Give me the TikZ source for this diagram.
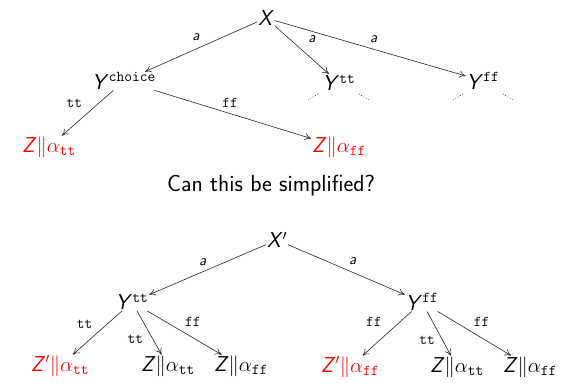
\documentclass[tikz,border=0pt]{standalone}
\usepackage{amsmath}
\usetikzlibrary{arrows.meta,calc}
\begin{document}
\begin{tikzpicture}[x=1pt,y=-1pt,
  nd/.style={font=\fontsize{21.5}{25}\selectfont\sffamily, inner sep=1pt, outer sep=0pt},
  rednd/.style={nd, text=red},
  lbl/.style={font=\fontsize{15}{17}\selectfont\sffamily, inner sep=0pt},
  arr/.style={-{To[length=6.5pt,width=7pt]}, line width=0.6pt, draw=black!85},
  dotline/.style={dash pattern=on 0.7pt off 2pt, line width=0.7pt, draw=black!70}]
\useasboundingbox (0,0) rectangle (574,385);

% ---------- top tree ----------
\node[nd] (X) at (266,18) {\textsl{X}};
\node[nd] (Yc) at (124,81) {\textsl{Y}$^{\texttt{choice}}$};
\node[nd] (Ytt) at (339,83) {\textsl{Y}$^{\texttt{tt}}$};
\node[nd] (Yff) at (483,81) {\textsl{Y}$^{\texttt{ff}}$};
\node[rednd] (Ztt) at (49,147) {\textsl{Z}$\|\alpha_{\texttt{tt}}$};
\node[rednd] (Zff) at (339,147) {\textsl{Z}$\|\alpha_{\texttt{ff}}$};

\draw[arr] (X) -- (Yc) node[lbl, pos=0.506, xshift=-4.4pt, yshift=9.8pt] {\textsl{a}};
\draw[arr] (X) -- (Ytt) node[lbl, pos=0.5, xshift=10.2pt, yshift=10.8pt] {\textsl{a}};
\draw[arr] (X) -- (Yff) node[lbl, pos=0.504, xshift=2.8pt, yshift=9.7pt] {\textsl{a}};
\draw[arr] (Yc) -- (Ztt) node[lbl, pos=0.55, xshift=-10.7pt, yshift=11.7pt] {\texttt{tt}};
\draw[arr] (Yc) -- (Zff) node[lbl, pos=0.46, xshift=3.5pt, yshift=9.6pt] {\texttt{ff}};

\coordinate (t1a) at ($(Ytt)+(-21,11)$); \coordinate (t1b) at ($(Ytt)+(-31,17)$);
\coordinate (t2a) at ($(Ytt)+(20,11)$);  \coordinate (t2b) at ($(Ytt)+(30,17)$);
\coordinate (f1a) at ($(Yff)+(-20,13)$); \coordinate (f1b) at ($(Yff)+(-30,19)$);
\coordinate (f2a) at ($(Yff)+(20,13)$);  \coordinate (f2b) at ($(Yff)+(30,19)$);
\draw[dotline] (t1a) -- (t1b);
\draw[dotline] (t2a) -- (t2b);
\draw[dotline] (f1a) -- (f1b);
\draw[dotline] (f2a) -- (f2b);

% ---------- question ----------
\node[font=\fontsize{23.3}{27}\selectfont\sffamily, inner sep=0pt] (q) at (271,186) {Can this be simplified?};

% ---------- bottom tree ----------
\node[nd] (Xp) at (277,240) {\textsl{X}$'$};
\node[nd] (Bt) at (132,302) {\textsl{Y}$^{\texttt{tt}}$};
\node[nd] (Bf) at (422,302) {\textsl{Y}$^{\texttt{ff}}$};
\node[rednd] (L1) at (60,366) {\textsl{Z}$'\|\alpha_{\texttt{tt}}$};
\node[nd] (L2) at (168,366) {\textsl{Z}$\|\alpha_{\texttt{tt}}$};
\node[nd] (L3) at (241,366) {\textsl{Z}$\|\alpha_{\texttt{ff}}$};
\node[rednd] (R1) at (350,367) {\textsl{Z}$'\|\alpha_{\texttt{ff}}$};
\node[nd] (R2) at (457,367) {\textsl{Z}$\|\alpha_{\texttt{tt}}$};
\node[nd] (R3) at (530,367) {\textsl{Z}$\|\alpha_{\texttt{ff}}$};

\draw[arr] (Xp) -- (Bt) node[lbl, pos=0.51, xshift=-3.8pt, yshift=8.5pt] {\textsl{a}};
\draw[arr] (Xp) -- (Bf) node[lbl, pos=0.52, xshift=4.1pt, yshift=9.1pt] {\textsl{a}};
\draw[arr] (Bt) -- (L1) node[lbl, pos=0.56, xshift=-9.8pt, yshift=11pt] {\texttt{tt}};
\draw[arr] (Bt) -- (L2) node[lbl, pos=0.5, xshift=-14pt, yshift=-7pt] {\texttt{tt}};
\draw[arr] (Bt) -- (L3) node[lbl, pos=0.52, xshift=7pt, yshift=11.4pt] {\texttt{ff}};
\draw[arr] (Bf) -- (R1) node[lbl, pos=0.53, xshift=-11.7pt, yshift=12.7pt] {\texttt{ff}};
\draw[arr] (Bf) -- (R2) node[lbl, pos=0.52, xshift=-12.4pt, yshift=-6.2pt] {\texttt{tt}};
\draw[arr] (Bf) -- (R3) node[lbl, pos=0.5, xshift=7.2pt, yshift=11.7pt] {\texttt{ff}};
\end{tikzpicture}
\end{document}
